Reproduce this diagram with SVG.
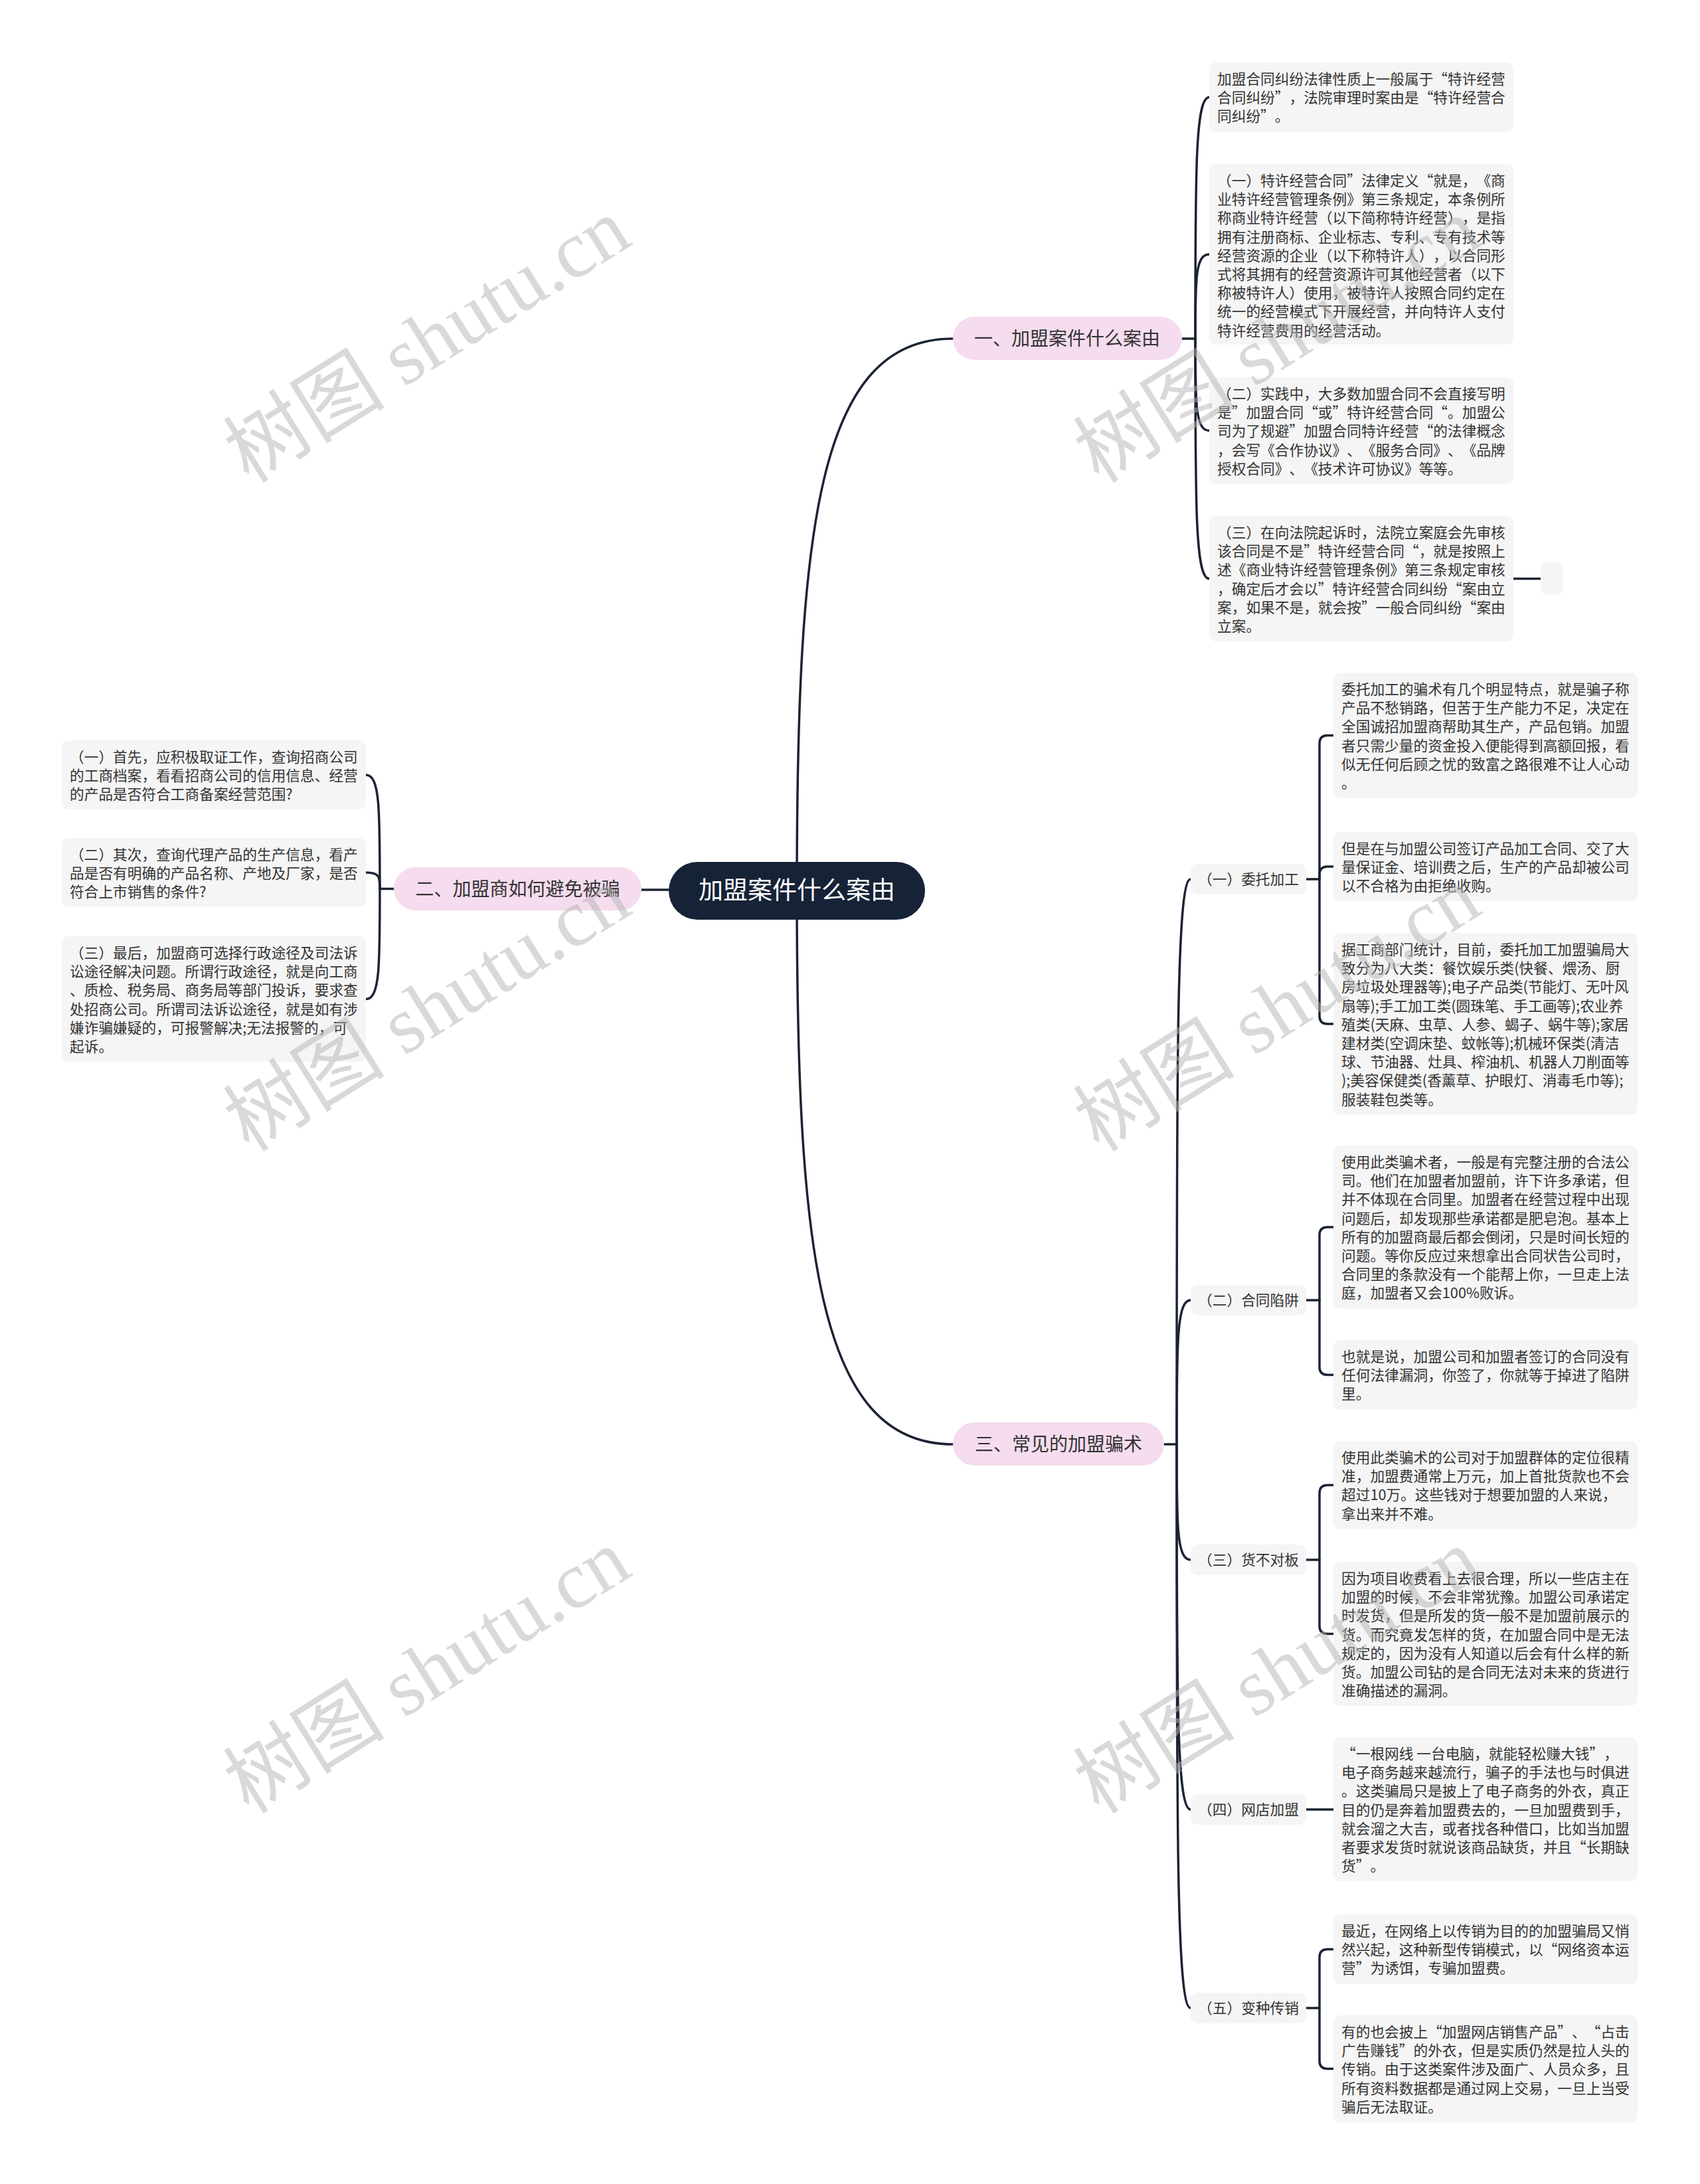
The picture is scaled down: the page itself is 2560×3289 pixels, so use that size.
<svg xmlns="http://www.w3.org/2000/svg" width="2560" height="3289" viewBox="0 0 2560 3289">
<style>
.bg{fill:#ffffff}
.box{fill:#f5f5f5}
.lab{fill:#f5f5f5}
.t{font-family:"Noto Sans CJK SC","Noto Sans",sans-serif;font-size:21.7px;fill:#333333;font-kerning:none;text-spacing-trim:space-all}
.lt{font-family:"Noto Sans CJK SC","Noto Sans",sans-serif;font-size:21.7px;fill:#333333;text-anchor:middle;font-kerning:none;text-spacing-trim:space-all}
.pill{fill:#f5dcee}
.pt{font-family:"Noto Sans CJK SC","Noto Sans",sans-serif;font-size:28px;fill:#333333;text-anchor:middle;font-kerning:none;text-spacing-trim:space-all}
.root{fill:#162236}
.rt{font-family:"Noto Sans CJK SC","Noto Sans",sans-serif;font-size:37px;fill:#ffffff;text-anchor:middle}
.conn{fill:none;stroke:#1b2434;stroke-width:3.5;stroke-linecap:round}
.wm{font-family:"Liberation Serif","Noto Sans CJK SC",serif;font-size:122px;fill:#b4b4b4;opacity:0.5;text-anchor:middle}
</style>
<rect class="bg" x="0" y="0" width="2560" height="3289"/>
<g id="connectors">
<path class="conn" d="M1200,1341 C1200,800 1230,510 1435,510"/>
<path class="conn" d="M1200,1341 C1200,1880 1230,2175 1435,2175"/>
<path class="conn" d="M1007,1340 L966,1340"/>
<path class="conn" d="M1780,510 L1800,510"/>
<path class="conn" d="M1800,510 C1800,255.5 1800,146.5 1821,146.5"/>
<path class="conn" d="M1800,510 C1800,421 1800,383 1821,383"/>
<path class="conn" d="M1800,510 C1800,607 1800,648.5 1821,648.5"/>
<path class="conn" d="M1800,510 C1800,763 1800,871.5 1821,871.5"/>
<path class="conn" d="M2279,871.5 L2320,871.5"/>
<path class="conn" d="M593,1338.5 L572,1338.5"/>
<path class="conn" d="M572,1338.5 C572,1218.5 572,1167 551,1167"/>
<path class="conn" d="M572,1338.5 C572,1321 572,1314 551,1314"/>
<path class="conn" d="M572,1338.5 C572,1455 572,1504.5 551,1504.5"/>
<path class="conn" d="M1753,2175 L1772,2175"/>
<path class="conn" d="M1772,2175 C1772,1579 1772,1324 1793,1324"/>
<path class="conn" d="M1772,2175 C1772,2023 1772,1958 1793,1958"/>
<path class="conn" d="M1772,2175 C1772,2297 1772,2349 1793,2349"/>
<path class="conn" d="M1772,2175 C1772,2560 1772,2725 1793,2725"/>
<path class="conn" d="M1772,2175 C1772,2769 1772,3024 1793,3024"/>
<path class="conn" d="M1967,1324 L1987,1324"/>
<path class="conn" d="M1987,1324 L1987,1119.5 Q1987,1107.5 1999,1107.5 L2008,1107.5"/>
<path class="conn" d="M1987,1324 L1987,1317 Q1987,1305 1999,1305 L2008,1305"/>
<path class="conn" d="M1987,1324 L1987,1530 Q1987,1542 1999,1542 L2008,1542"/>
<path class="conn" d="M1967,1958 L1987,1958"/>
<path class="conn" d="M1987,1958 L1987,1860 Q1987,1848 1999,1848 L2008,1848"/>
<path class="conn" d="M1987,1958 L1987,2058.5 Q1987,2070.5 1999,2070.5 L2008,2070.5"/>
<path class="conn" d="M1967,2349 L1987,2349"/>
<path class="conn" d="M1987,2349 L1987,2248.5 Q1987,2236.5 1999,2236.5 L2008,2236.5"/>
<path class="conn" d="M1987,2349 L1987,2448.5 Q1987,2460.5 1999,2460.5 L2008,2460.5"/>
<path class="conn" d="M1967,2725 L2008,2725"/>
<path class="conn" d="M1967,3024 L1987,3024"/>
<path class="conn" d="M1987,3024 L1987,2947.5 Q1987,2935.5 1999,2935.5 L2008,2935.5"/>
<path class="conn" d="M1987,3024 L1987,3103.5 Q1987,3115.5 1999,3115.5 L2008,3115.5"/>
</g>
<g id="root">
<rect class="root" x="1007" y="1298" width="386" height="87" rx="43.5"/>
<text class="rt" x="1200" y="1354">加盟案件什么案由</text>
</g>
<g id="branch1">
<rect class="pill" x="1435" y="477" width="345" height="65" rx="32.5"/>
<text class="pt" x="1607" y="520">一、加盟案件什么案由</text>
</g>
<g id="branch2">
<rect class="pill" x="593" y="1306" width="373" height="65" rx="32.5"/>
<text class="pt" x="779.5" y="1348.5">二、加盟商如何避免被骗</text>
</g>
<g id="branch3">
<rect class="pill" x="1435" y="2142" width="318" height="65" rx="32.5"/>
<text class="pt" x="1594" y="2184.5">三、常见的加盟骗术</text>
</g>
<g id="b1a">
<rect class="box" x="1821" y="94" width="458" height="105" rx="10"/>
<text class="t" x="1833" y="127"><tspan x="1833">加盟合同纠纷法律性质上一般属于“特许经营</tspan><tspan x="1833" dy="28.2">合同纠纷”，法院审理时案由是“特许经营合</tspan><tspan x="1833" dy="28.2">同纠纷”。</tspan></text>
</g>
<g id="b1b">
<rect class="box" x="1821" y="247" width="458" height="272" rx="10"/>
<text class="t" x="1833" y="280"><tspan x="1833">（一）特许经营合同”法律定义“就是，《商</tspan><tspan x="1833" dy="28.2">业特许经营管理条例》第三条规定，本条例所</tspan><tspan x="1833" dy="28.2">称商业特许经营（以下简称特许经营），是指</tspan><tspan x="1833" dy="28.2">拥有注册商标、企业标志、专利、专有技术等</tspan><tspan x="1833" dy="28.2">经营资源的企业（以下称特许人），以合同形</tspan><tspan x="1833" dy="28.2">式将其拥有的经营资源许可其他经营者（以下</tspan><tspan x="1833" dy="28.2">称被特许人）使用，被特许人按照合同约定在</tspan><tspan x="1833" dy="28.2">统一的经营模式下开展经营，并向特许人支付</tspan><tspan x="1833" dy="28.2">特许经营费用的经营活动。</tspan></text>
</g>
<g id="b1c">
<rect class="box" x="1821" y="568" width="458" height="161" rx="10"/>
<text class="t" x="1833" y="601"><tspan x="1833">（二）实践中，大多数加盟合同不会直接写明</tspan><tspan x="1833" dy="28.2">是”加盟合同“或”特许经营合同“。加盟公</tspan><tspan x="1833" dy="28.2">司为了规避”加盟合同特许经营“的法律概念</tspan><tspan x="1833" dy="28.2">，会写《合作协议》、《服务合同》、《品牌</tspan><tspan x="1833" dy="28.2">授权合同》、《技术许可协议》等等。</tspan></text>
</g>
<g id="b1d">
<rect class="box" x="1821" y="777" width="458" height="189" rx="10"/>
<text class="t" x="1833" y="810"><tspan x="1833">（三）在向法院起诉时，法院立案庭会先审核</tspan><tspan x="1833" dy="28.2">该合同是不是”特许经营合同“，就是按照上</tspan><tspan x="1833" dy="28.2">述《商业特许经营管理条例》第三条规定审核</tspan><tspan x="1833" dy="28.2">，确定后才会以”特许经营合同纠纷“案由立</tspan><tspan x="1833" dy="28.2">案，如果不是，就会按”一般合同纠纷“案由</tspan><tspan x="1833" dy="28.2">立案。</tspan></text>
</g>
<g id="b1d-empty">
<rect class="box" x="2320" y="847" width="34" height="48" rx="8"/>
</g>
<g id="b2a">
<rect class="box" x="93" y="1115" width="458" height="104" rx="10"/>
<text class="t" x="105" y="1148"><tspan x="105">（一）首先，应积极取证工作，查询招商公司</tspan><tspan x="105" dy="28.2">的工商档案，看看招商公司的信用信息、经营</tspan><tspan x="105" dy="28.2">的产品是否符合工商备案经营范围?</tspan></text>
</g>
<g id="b2b">
<rect class="box" x="93" y="1262" width="458" height="104" rx="10"/>
<text class="t" x="105" y="1295"><tspan x="105">（二）其次，查询代理产品的生产信息，看产</tspan><tspan x="105" dy="28.2">品是否有明确的产品名称、产地及厂家，是否</tspan><tspan x="105" dy="28.2">符合上市销售的条件?</tspan></text>
</g>
<g id="b2c">
<rect class="box" x="93" y="1410" width="458" height="189" rx="10"/>
<text class="t" x="105" y="1443"><tspan x="105">（三）最后，加盟商可选择行政途径及司法诉</tspan><tspan x="105" dy="28.2">讼途径解决问题。所谓行政途径，就是向工商</tspan><tspan x="105" dy="28.2">、质检、税务局、商务局等部门投诉，要求查</tspan><tspan x="105" dy="28.2">处招商公司。所谓司法诉讼途径，就是如有涉</tspan><tspan x="105" dy="28.2">嫌诈骗嫌疑的，可报警解决;无法报警的，可</tspan><tspan x="105" dy="28.2">起诉。</tspan></text>
</g>
<g id="l1">
<rect class="lab" x="1793" y="1301" width="174" height="46" rx="10"/>
<text class="lt" x="1880" y="1332">（一）委托加工</text>
</g>
<g id="l2">
<rect class="lab" x="1793" y="1935" width="174" height="46" rx="10"/>
<text class="lt" x="1880" y="1966">（二）合同陷阱</text>
</g>
<g id="l3">
<rect class="lab" x="1793" y="2326" width="174" height="46" rx="10"/>
<text class="lt" x="1880" y="2357">（三）货不对板</text>
</g>
<g id="l4">
<rect class="lab" x="1793" y="2702" width="174" height="46" rx="10"/>
<text class="lt" x="1880" y="2733">（四）网店加盟</text>
</g>
<g id="l5">
<rect class="lab" x="1793" y="3001" width="174" height="46" rx="10"/>
<text class="lt" x="1880" y="3032">（五）变种传销</text>
</g>
<g id="k1">
<rect class="box" x="2008" y="1013" width="458" height="189" rx="10"/>
<text class="t" x="2020" y="1046"><tspan x="2020">委托加工的骗术有几个明显特点，就是骗子称</tspan><tspan x="2020" dy="28.2">产品不愁销路，但苦于生产能力不足，决定在</tspan><tspan x="2020" dy="28.2">全国诚招加盟商帮助其生产，产品包销。加盟</tspan><tspan x="2020" dy="28.2">者只需少量的资金投入便能得到高额回报，看</tspan><tspan x="2020" dy="28.2">似无任何后顾之忧的致富之路很难不让人心动</tspan><tspan x="2020" dy="28.2">。</tspan></text>
</g>
<g id="k2">
<rect class="box" x="2008" y="1253" width="458" height="104" rx="10"/>
<text class="t" x="2020" y="1286"><tspan x="2020">但是在与加盟公司签订产品加工合同、交了大</tspan><tspan x="2020" dy="28.2">量保证金、培训费之后，生产的产品却被公司</tspan><tspan x="2020" dy="28.2">以不合格为由拒绝收购。</tspan></text>
</g>
<g id="k3">
<rect class="box" x="2008" y="1405" width="458" height="274" rx="10"/>
<text class="t" x="2020" y="1438"><tspan x="2020">据工商部门统计，目前，委托加工加盟骗局大</tspan><tspan x="2020" dy="28.2">致分为八大类：餐饮娱乐类(快餐、煨汤、厨</tspan><tspan x="2020" dy="28.2">房垃圾处理器等);电子产品类(节能灯、无叶风</tspan><tspan x="2020" dy="28.2">扇等);手工加工类(圆珠笔、手工画等);农业养</tspan><tspan x="2020" dy="28.2">殖类(天麻、虫草、人参、蝎子、蜗牛等);家居</tspan><tspan x="2020" dy="28.2">建材类(空调床垫、蚊帐等);机械环保类(清洁</tspan><tspan x="2020" dy="28.2">球、节油器、灶具、榨油机、机器人刀削面等</tspan><tspan x="2020" dy="28.2">);美容保健类(香薰草、护眼灯、消毒毛巾等);</tspan><tspan x="2020" dy="28.2">服装鞋包类等。</tspan></text>
</g>
<g id="k4">
<rect class="box" x="2008" y="1725" width="458" height="246" rx="10"/>
<text class="t" x="2020" y="1758"><tspan x="2020">使用此类骗术者，一般是有完整注册的合法公</tspan><tspan x="2020" dy="28.2">司。他们在加盟者加盟前，许下许多承诺，但</tspan><tspan x="2020" dy="28.2">并不体现在合同里。加盟者在经营过程中出现</tspan><tspan x="2020" dy="28.2">问题后，却发现那些承诺都是肥皂泡。基本上</tspan><tspan x="2020" dy="28.2">所有的加盟商最后都会倒闭，只是时间长短的</tspan><tspan x="2020" dy="28.2">问题。等你反应过来想拿出合同状告公司时，</tspan><tspan x="2020" dy="28.2">合同里的条款没有一个能帮上你，一旦走上法</tspan><tspan x="2020" dy="28.2">庭，加盟者又会100%败诉。</tspan></text>
</g>
<g id="k5">
<rect class="box" x="2008" y="2018" width="458" height="105" rx="10"/>
<text class="t" x="2020" y="2051"><tspan x="2020">也就是说，加盟公司和加盟者签订的合同没有</tspan><tspan x="2020" dy="28.2">任何法律漏洞，你签了，你就等于掉进了陷阱</tspan><tspan x="2020" dy="28.2">里。</tspan></text>
</g>
<g id="k6">
<rect class="box" x="2008" y="2170" width="458" height="133" rx="10"/>
<text class="t" x="2020" y="2203"><tspan x="2020">使用此类骗术的公司对于加盟群体的定位很精</tspan><tspan x="2020" dy="28.2">准，加盟费通常上万元，加上首批货款也不会</tspan><tspan x="2020" dy="28.2">超过10万。这些钱对于想要加盟的人来说，</tspan><tspan x="2020" dy="28.2">拿出来并不难。</tspan></text>
</g>
<g id="k7">
<rect class="box" x="2008" y="2352" width="458" height="217" rx="10"/>
<text class="t" x="2020" y="2385"><tspan x="2020">因为项目收费看上去很合理，所以一些店主在</tspan><tspan x="2020" dy="28.2">加盟的时候，不会非常犹豫。加盟公司承诺定</tspan><tspan x="2020" dy="28.2">时发货，但是所发的货一般不是加盟前展示的</tspan><tspan x="2020" dy="28.2">货。而究竟发怎样的货，在加盟合同中是无法</tspan><tspan x="2020" dy="28.2">规定的，因为没有人知道以后会有什么样的新</tspan><tspan x="2020" dy="28.2">货。加盟公司钻的是合同无法对未来的货进行</tspan><tspan x="2020" dy="28.2">准确描述的漏洞。</tspan></text>
</g>
<g id="k8">
<rect class="box" x="2008" y="2616" width="458" height="217" rx="10"/>
<text class="t" x="2020" y="2649"><tspan x="2020">“一根网线 一台电脑，就能轻松赚大钱”，</tspan><tspan x="2020" dy="28.2">电子商务越来越流行，骗子的手法也与时俱进</tspan><tspan x="2020" dy="28.2">。这类骗局只是披上了电子商务的外衣，真正</tspan><tspan x="2020" dy="28.2">目的仍是奔着加盟费去的，一旦加盟费到手，</tspan><tspan x="2020" dy="28.2">就会溜之大吉，或者找各种借口，比如当加盟</tspan><tspan x="2020" dy="28.2">者要求发货时就说该商品缺货，并且“长期缺</tspan><tspan x="2020" dy="28.2">货”。</tspan></text>
</g>
<g id="k9">
<rect class="box" x="2008" y="2883" width="458" height="105" rx="10"/>
<text class="t" x="2020" y="2916"><tspan x="2020">最近，在网络上以传销为目的的加盟骗局又悄</tspan><tspan x="2020" dy="28.2">然兴起，这种新型传销模式，以“网络资本运</tspan><tspan x="2020" dy="28.2">营”为诱饵，专骗加盟费。</tspan></text>
</g>
<g id="k10">
<rect class="box" x="2008" y="3035" width="458" height="161" rx="10"/>
<text class="t" x="2020" y="3068"><tspan x="2020">有的也会披上“加盟网店销售产品”、“占击</tspan><tspan x="2020" dy="28.2">广告赚钱”的外衣，但是实质仍然是拉人头的</tspan><tspan x="2020" dy="28.2">传销。由于这类案件涉及面广、人员众多，且</tspan><tspan x="2020" dy="28.2">所有资料数据都是通过网上交易，一旦上当受</tspan><tspan x="2020" dy="28.2">骗后无法取证。</tspan></text>
</g>
<g id="watermarks">
<text class="wm" transform="translate(644,514) rotate(-32)" y="40">树图 shutu.cn</text>
<text class="wm" transform="translate(644,1521) rotate(-32)" y="40">树图 shutu.cn</text>
<text class="wm" transform="translate(644,2518) rotate(-32)" y="40">树图 shutu.cn</text>
<text class="wm" transform="translate(1924,514) rotate(-32)" y="40">树图 shutu.cn</text>
<text class="wm" transform="translate(1924,1521) rotate(-32)" y="40">树图 shutu.cn</text>
<text class="wm" transform="translate(1924,2518) rotate(-32)" y="40">树图 shutu.cn</text>
</g>
</svg>
